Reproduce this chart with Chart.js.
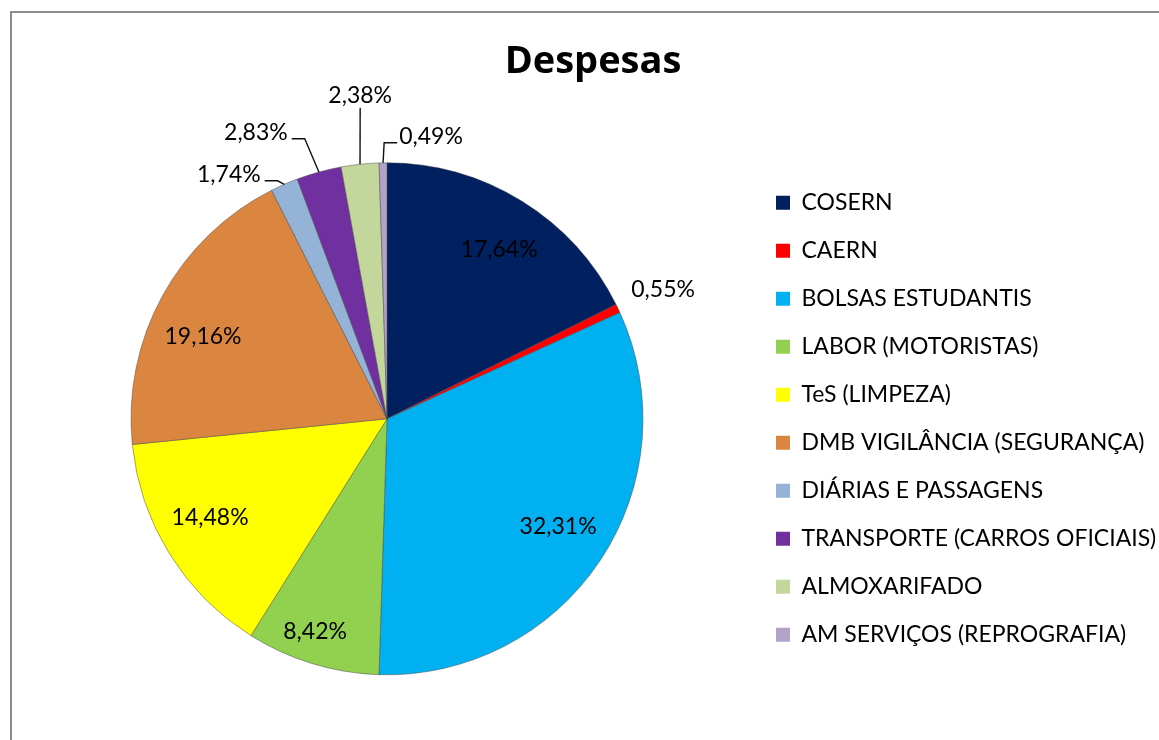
<!DOCTYPE html>
<html>
<head>
<meta charset="utf-8">
<script src="https://cdn.jsdelivr.net/npm/chart.js@4.4.1/dist/chart.umd.min.js"></script>
<style>
html, body { margin: 0; padding: 0; background: #fff; overflow: hidden; }
#moldura { position: absolute; left: 10px; top: 11px; width: 1400px; height: 1000px;
  border-top: 2px solid #8c8c8c; border-left: 2px solid #8c8c8c; }
#grafico { position: absolute; left: 0; top: 0; }
</style>
</head>
<body>
<div id="moldura"></div>
<canvas id="grafico" width="1200" height="740"></canvas>
<script>
// Despesas (% do total)
const categorias = ['COSERN', 'CAERN', 'BOLSAS ESTUDANTIS', 'LABOR (MOTORISTAS)', 'TeS (LIMPEZA)',
  'DMB VIGILÂNCIA (SEGURANÇA)', 'DIÁRIAS E PASSAGENS', 'TRANSPORTE (CARROS OFICIAIS)',
  'ALMOXARIFADO', 'AM SERVIÇOS (REPROGRAFIA)'];
const percentuais = [17.64, 0.55, 32.31, 8.42, 14.48, 19.16, 1.74, 2.83, 2.38, 0.49];
const cores = ['#002060', '#ff0000', '#00b0f0', '#92d050', '#ffff00',
  '#db8640', '#95b3d7', '#7030a0', '#c3d69b', '#b3a2c7'];
const rotulos = percentuais.map(v => v.toFixed(2).replace('.', ',') + '%');

// rótulos de dados no estilo do Excel (dentro / fora com linha guia)
const rotulosPlugin = {
  id: 'rotulos',
  afterDatasetsDraw(chart, args, opts) {
    const ctx = chart.ctx;
    const meta = chart.getDatasetMeta(0);
    ctx.save();
    ctx.font = opts.font;
    ctx.fillStyle = '#000';
    ctx.strokeStyle = '#111';
    ctx.lineWidth = 1.4;
    ctx.textAlign = 'center';
    ctx.textBaseline = 'middle';
    meta.data.forEach((arc, i) => {
      const p = opts.pos[i];
      const {x, y, startAngle, endAngle, outerRadius} =
        arc.getProps(['x', 'y', 'startAngle', 'endAngle', 'outerRadius'], true);
      const meio = (startAngle + endAngle) / 2;
      const a = meio + p.da * Math.PI / 180;
      const lx = x + Math.cos(a) * outerRadius * p.r;
      const ly = y + Math.sin(a) * outerRadius * p.r;
      ctx.fillText(rotulos[i], lx, ly);
      if (!p.guia) return;
      const ex = x + Math.cos(meio) * outerRadius;
      const ey = y + Math.sin(meio) * outerRadius;
      const w = ctx.measureText(rotulos[i]).width;
      ctx.beginPath();
      if (p.guia === 'v') {
        ctx.moveTo(lx, ly + 12);
        ctx.lineTo(ex, ey);
      } else {
        const esq = lx < ex;
        const x0 = esq ? lx + w / 2 + 4 : lx - w / 2 - 2;
        const x1 = esq ? x0 + 13 : x0 - 13;
        ctx.moveTo(x0, ly + 6);
        ctx.lineTo(x1, ly + 6);
        ctx.lineTo(ex, ey);
      }
      ctx.stroke();
    });
    ctx.restore();
  }
};

new Chart(document.getElementById('grafico'), {
  type: 'pie',
  data: {
    labels: categorias,
    datasets: [{
      data: percentuais,
      backgroundColor: cores,
      borderColor: 'rgba(70,70,70,0.6)',
      borderWidth: 0.8
    }]
  },
  options: {
    responsive: false,
    animation: false,
    radius: 256,
    layout: { padding: { left: 23, right: 37, top: 0, bottom: 0 } },
    plugins: {
      tooltip: { enabled: false },
      title: {
        display: true,
        text: 'Despesas',
        color: '#000',
        font: { family: 'Open Sans', size: 38, weight: 'bold', lineHeight: 1.2 },
        padding: { top: 39.5, bottom: 12.5 }
      },
      legend: {
        position: 'right',
        fullSize: false,
        align: 'center',
        maxWidth: 412,
        labels: {
          boxWidth: 14,
          boxHeight: 14,
          padding: 25,
          color: '#000',
          font: { family: 'Lato', size: 23 },
          generateLabels(chart) {
            return Chart.overrides.pie.plugins.legend.labels.generateLabels(chart)
              .map(l => Object.assign(l, { lineWidth: 0, strokeStyle: l.fillStyle }));
          }
        }
      },
      rotulos: {
        font: '23px Lato',
        pos: [
          { r: 0.792, da: 1.8 }, { r: 1.19, da: 0.5 }, { r: 0.79, da: -1.4 },
          { r: 0.878, da: 1.7 }, { r: 0.792, da: 2.6 }, { r: 0.787, da: -4.7 },
          { r: 1.136, da: -9.3, guia: 'h' }, { r: 1.229, da: -9.2, guia: 'h' },
          { r: 1.266, da: 1.3, guia: 'v' }, { r: 1.115, da: 9.75, guia: 'h' }
        ]
      }
    }
  },
  plugins: [rotulosPlugin]
});
</script>
</body>
</html>
